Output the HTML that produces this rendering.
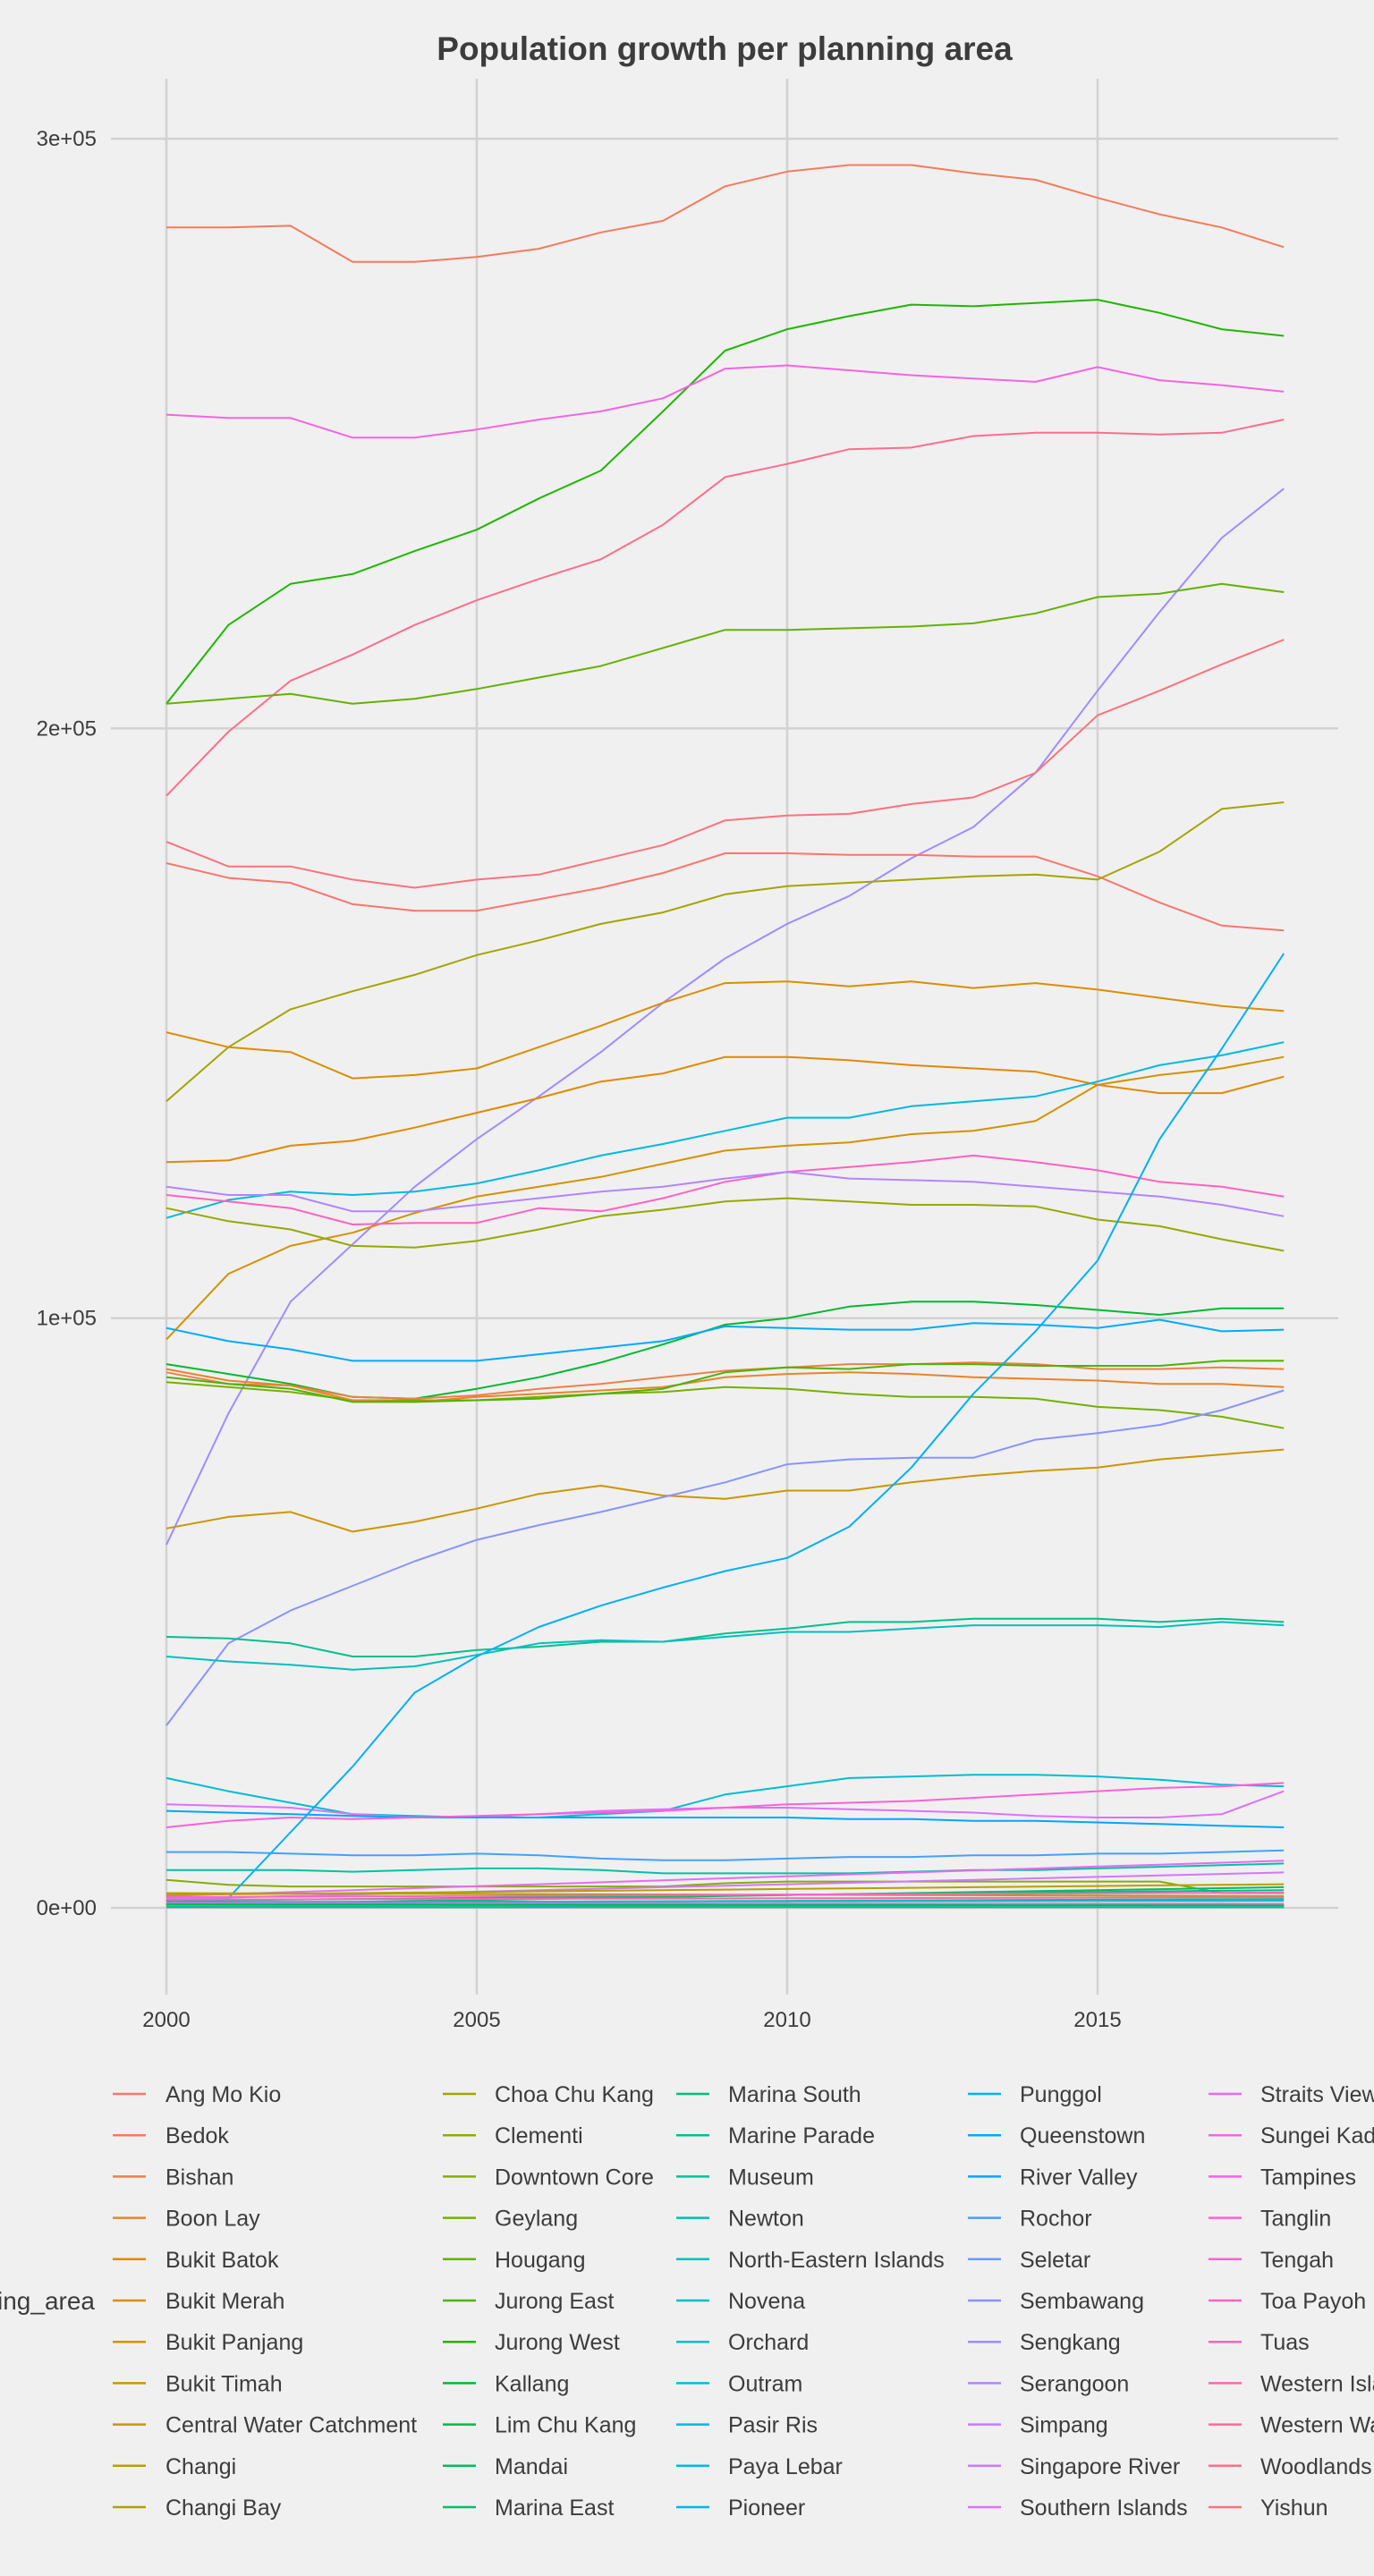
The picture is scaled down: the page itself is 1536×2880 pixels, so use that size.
<!DOCTYPE html>
<html><head><meta charset="utf-8">
<style>
html,body{margin:0;padding:0;background:#f0f0f0;}
svg{display:block;}
text{font-family:"Liberation Sans",Arial,sans-serif;fill:#3c3c3c;}
</style></head>
<body>
<svg id="s" width="1536" height="2880" xmlns="http://www.w3.org/2000/svg">
<rect width="1536" height="2880" fill="#f0f0f0"/>
<text x="810" y="67" font-size="37" font-weight="bold" text-anchor="middle">Population growth per planning area</text>
<g id="grid"></g>
<g id="lines" fill="none" stroke-width="2" stroke-linejoin="round"></g>
<g id="axes" font-size="24"></g>
<g id="legend" font-size="25"></g>
</svg>
<script>
function hcl(h){
  var L=65,C=100,hr=h*Math.PI/180;
  var u=C*Math.cos(hr),v=C*Math.sin(hr);
  var Xn=95.047,Yn=100,Zn=108.883;
  var d=Xn+15*Yn+3*Zn,un=4*Xn/d,vn=9*Yn/d;
  var Y=Yn*Math.pow((L+16)/116,3);
  var up=u/(13*L)+un,vp=v/(13*L)+vn;
  var X=Y*9*up/(4*vp),Z=Y*(12-3*up-20*vp)/(4*vp);
  X/=100;Y/=100;Z/=100;
  var r=3.2404542*X-1.5371385*Y-0.4985314*Z;
  var g=-0.9692660*X+1.8760108*Y+0.0415560*Z;
  var b=0.0556434*X-0.2040259*Y+1.0572252*Z;
  function gm(c){c=c<=0.0031308?12.92*c:1.055*Math.pow(c,1/2.4)-0.055;c=Math.max(0,Math.min(1,c));return Math.round(c*255);}
  return "rgb("+gm(r)+","+gm(g)+","+gm(b)+")";
}
var names=["Ang Mo Kio","Bedok","Bishan","Boon Lay","Bukit Batok","Bukit Merah","Bukit Panjang","Bukit Timah","Central Water Catchment","Changi","Changi Bay","Choa Chu Kang","Clementi","Downtown Core","Geylang","Hougang","Jurong East","Jurong West","Kallang","Lim Chu Kang","Mandai","Marina East","Marina South","Marine Parade","Museum","Newton","North-Eastern Islands","Novena","Orchard","Outram","Pasir Ris","Paya Lebar","Pioneer","Punggol","Queenstown","River Valley","Rochor","Seletar","Sembawang","Sengkang","Serangoon","Simpang","Singapore River","Southern Islands","Straits View","Sungei Kadut","Tampines","Tanglin","Tengah","Toa Payoh","Tuas","Western Islands","Western Water Catchment","Woodlands","Yishun"];
var cols=[];for(var i=0;i<55;i++)cols.push(hcl(15+i*360/55));
var NS="http://www.w3.org/2000/svg";
function el(p,t,a,txt){var e=document.createElementNS(NS,t);for(var k in a)e.setAttribute(k,a[k]);if(txt!==undefined)e.textContent=txt;p.appendChild(e);return e;}
var grid=document.getElementById("grid"),axes=document.getElementById("axes"),lines=document.getElementById("lines"),leg=document.getElementById("legend");
function X(yr){return 186+(yr-2000)*69.4;}
function Yk(v){return 2133-v*6.593;}
function Yd(y){return 2133-(1161-y)*1.8365;}
// grid
for(var k=0;k<4;k++){var yy=Yk(k*100);el(grid,"line",{x1:124,x2:1496,y1:yy,y2:yy,stroke:"#d2d2d2","stroke-width":2.5});
 el(axes,"text",{x:108,y:yy+8,"text-anchor":"end"},k+"e+0"+(k?5:0));}
[2000,2005,2010,2015].forEach(function(yr){el(grid,"line",{x1:X(yr),x2:X(yr),y1:88,y2:2230,stroke:"#d2d2d2","stroke-width":2.5});
 el(axes,"text",{x:X(yr),y:2266,"text-anchor":"middle"},yr);});
// series in displayed-y units
var D=[
[2,[138,138,137,159,159,156,151,141,134,113,104,100,100,105,109,120,130,138,150]],
[18,[428,380,355,349,335,322,303,286,250,213,200,192,185,186,184,182,190,200,204]],
[47,[252,254,254,266,266,261,255,250,242,224,222,225,228,230,232,223,231,234,238]],
[54,[484,445,414,398,380,365,352,340,319,290,282,273,272,265,263,263,264,263,255]],
[40,[940,860,792,757,722,693,667,640,610,583,562,545,522,503,470,420,372,327,297]],
[16,[428,425,422,428,425,419,412,405,394,383,383,382,381,379,373,363,361,355,360]],
[55,[512,527,527,535,540,535,532,523,514,499,496,495,489,485,470,435,420,404,389]],
[1,[525,534,537,550,554,554,547,540,531,519,519,520,520,521,521,533,549,563,566]],
[12,[670,637,614,603,593,581,572,562,555,544,539,537,535,533,532,535,518,492,488]],
[6,[628,637,640,656,654,650,637,624,610,598,597,600,597,601,598,602,607,612,615]],
[5,[707,706,697,694,686,677,668,658,653,643,643,645,648,650,652,660,665,665,655]],
[7,[815,775,758,750,738,728,722,716,708,700,697,695,690,688,682,660,654,650,643]],
[31,[741,730,725,727,725,720,712,703,696,688,680,680,673,670,667,658,648,642,634]],
[50,[727,731,735,745,744,744,735,737,729,719,713,710,707,703,707,712,719,722,728]],
[41,[722,727,727,737,737,733,729,725,722,717,713,717,718,719,722,725,728,733,740]],
[13,[735,743,748,758,759,755,748,740,736,731,729,731,733,733,734,742,746,754,761]],
[19,[830,836,842,850,851,845,838,829,818,806,802,795,792,792,794,797,800,796,796]],
[35,[808,816,821,828,828,828,824,820,816,807,808,809,809,805,806,808,803,810,809]],
[15,[841,844,847,852,852,852,850,848,847,844,845,848,850,850,851,856,858,862,869]],
[3,[835,842,843,850,851,849,845,842,838,834,832,830,830,829,830,833,833,832,833]],
[4,[833,840,843,852,853,850,848,846,844,838,836,835,836,838,839,840,842,842,844]],
[17,[838,842,845,853,853,852,851,848,845,835,832,833,830,830,831,831,831,828,828]],
[8,[930,923,920,932,926,918,909,904,910,912,907,907,902,898,895,893,888,885,882]],
[39,[1050,1000,980,965,950,937,928,920,911,902,891,888,887,887,876,872,867,858,846]],
[24,[996,997,1000,1008,1008,1004,1002,999,999,994,991,987,987,985,985,985,987,985,987]],
[28,[1008,1011,1013,1016,1014,1007,1000,998,999,996,993,993,991,989,989,989,990,987,989]],
[30,[1082,1090,1097,1104,1105,1106,1106,1104,1102,1092,1087,1082,1081,1080,1080,1081,1083,1086,1087]],
[44,[1098,1099,1100,1104,1106,1106,1104,1102,1101,1100,1100,1101,1102,1103,1105,1106,1106,1104,1090]],
[36,[1102,1103,1104,1105,1106,1106,1106,1106,1106,1106,1106,1107,1107,1108,1108,1109,1110,1111,1112]],
[48,[1112,1108,1106,1107,1106,1105,1104,1103,1102,1100,1098,1097,1096,1094,1092,1090,1088,1087,1085]],
[37,[1127,1127,1128,1129,1129,1128,1129,1131,1132,1132,1131,1130,1130,1129,1129,1128,1128,1127,1126]],
[26,[1138,1138,1138,1139,1138,1137,1137,1138,1140,1140,1140,1140,1139,1138,1138,1137,1136,1135,1134]],
[14,[1144,1147,1148,1148,1148,1148,1148,1148,1148,1146,1145,1145,1145,1145,1145,1145,1145,1152,1152]]
];
function add(ci,pts){el(lines,"polyline",{points:pts.join(" "),stroke:cols[ci-1]});}
D.forEach(function(s){var p=[];s[1].forEach(function(y,i){p.push(X(2000+i).toFixed(1)+","+Yd(y).toFixed(1));});add(s[0],p);});
// Punggol
(function(){var v=[1155,1115,1075,1030,1008,990,977,966,956,948,929,893,848,810,767,693,638,580];var p=[X(2000)+","+Yk(0.3)];
v.forEach(function(y,i){p.push(X(2001+i).toFixed(1)+","+Yd(y).toFixed(1));});add(34,p);})();
// near-zero lines (thousands)
var Z=[[21,0.5,3.5],[23,1.2,3.0],[43,1.5,6],[45,2.0,8],[11,2.5,2.0],[10,2.2,4],[25,0.8,1.5],[29,1.0,1.2],[32,0.2,0.3],[33,0.1,0.2],[38,0.3,0.5],[42,0.2,0.2],[46,0.8,0.7],[49,0.1,0.1],[51,0.3,0.5],[52,0.5,0.4],[53,0.1,0.1],[9,0.2,0.3],[20,0.6,0.4],[22,0.1,0.1],[27,0.2,0.2],[49,1.8,2.6],[52,1.4,1.8]];
Z.forEach(function(z){var p=[];for(var i=0;i<19;i++){var v=z[1]+(z[2]-z[1])*i/18;p.push(X(2000+i).toFixed(1)+","+Yk(v).toFixed(1));}add(z[0],p);});
// legend
var cx=[[126,185],[495,553],[756,814],[1082,1140],[1351,1409]];
for(var i=0;i<55;i++){var c=Math.floor(i/11),r=i%11;var y=2341+r*46.2;
 el(leg,"line",{x1:cx[c][0],x2:cx[c][0]+37,y1:y,y2:y,stroke:cols[i],"stroke-width":2.5});
 el(leg,"text",{x:cx[c][1],y:y+9},names[i]);}
el(leg,"text",{x:106,y:2582,"text-anchor":"end","font-size":"28"},"planning_area");
</script>
</body></html>
